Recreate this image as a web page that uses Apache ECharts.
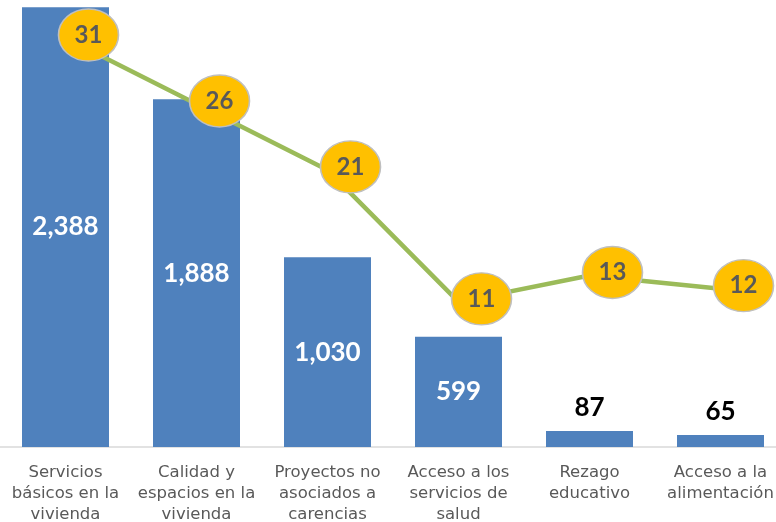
<!DOCTYPE html>
<html>
<head>
<meta charset="utf-8">
<script src="https://cdn.jsdelivr.net/npm/echarts@6/dist/echarts.min.js"></script>
<style>
  html, body { margin: 0; padding: 0; background: #fff; }
  #chart { width: 776px; height: 522px; }
</style>
</head>
<body>
<div id="chart"></div>
<script>
// categorías (eje x)
var categorias = [
  'Servicios\nbásicos en la\nvivienda',
  'Calidad y\nespacios en la\nvivienda',
  'Proyectos no\nasociados a\ncarencias',
  'Acceso a los\nservicios de\nsalud',
  'Rezago\neducativo',
  'Acceso a la\nalimentación'
]
// barras
var montos = [2388, 1888, 1030, 599, 87, 65]
// línea (eje secundario)
var porcentajes = [31, 26, 21, 11, 13, 12]

var myChart = echarts.init(document.getElementById('chart'))

// barras chicas: etiqueta arriba en negro
var barData = montos.map(function (v) {
  if (v < 200) {
    return {
      value: v,
      label: { position: 'top', color: '#000', distance: 10 }
    }
  }
  return v
})

var option = {
  backgroundColor: '#fff',
  animation: false,
  grid: {
    top: 5,
    left: 0,
    right: -10,
    bottom: 75,
    outerBoundsMode: 'none'
  },
  xAxis: {
    type: 'category',
    data: categorias,
    axisTick: { show: false },
    axisLine: { lineStyle: { color: '#D9D9D9', width: 1.5 } },
    axisLabel: {
      interval: 0,
      margin: 15,
      color: '#595959',
      fontFamily: 'DejaVu Sans',
      fontSize: 16.5,
      lineHeight: 21
    }
  },
  yAxis: [
    { type: 'value', min: 0, max: 2400, show: false, splitLine: { show: false } },
    { type: 'value', min: 0, max: 33.5, show: false, splitLine: { show: false } }
  ],
  series: [
    {
      type: 'bar',
      data: barData,
      barWidth: 87,
      itemStyle: { color: '#4F81BD' },
      label: {
        show: true,
        position: 'inside',
        color: '#fff',
        fontFamily: 'Lato',
        fontWeight: 'bold',
        fontSize: 26,
        formatter: function (p) {
          return p.value.toLocaleString('en-US')
        }
      }
    },
    {
      type: 'line',
      yAxisIndex: 1,
      data: porcentajes,
      lineStyle: { color: '#9BBB59', width: 4.5 },
      // elipse amarilla como etiqueta
      symbol: 'path://M0,50 A50,50 0 1,1 100,50 A50,50 0 1,1 0,50 Z',
      symbolSize: [60, 52],
      symbolOffset: [23, -3],
      itemStyle: {
        color: '#FFC000',
        borderColor: '#BFBFBF',
        borderWidth: 1.5
      },
      label: {
        show: true,
        position: 'inside',
        color: '#595959',
        fontFamily: 'Lato',
        fontWeight: 'bold',
        fontSize: 24
      },
      z: 5
    }
  ]
}

myChart.setOption(option, true)
</script>
</body>
</html>
